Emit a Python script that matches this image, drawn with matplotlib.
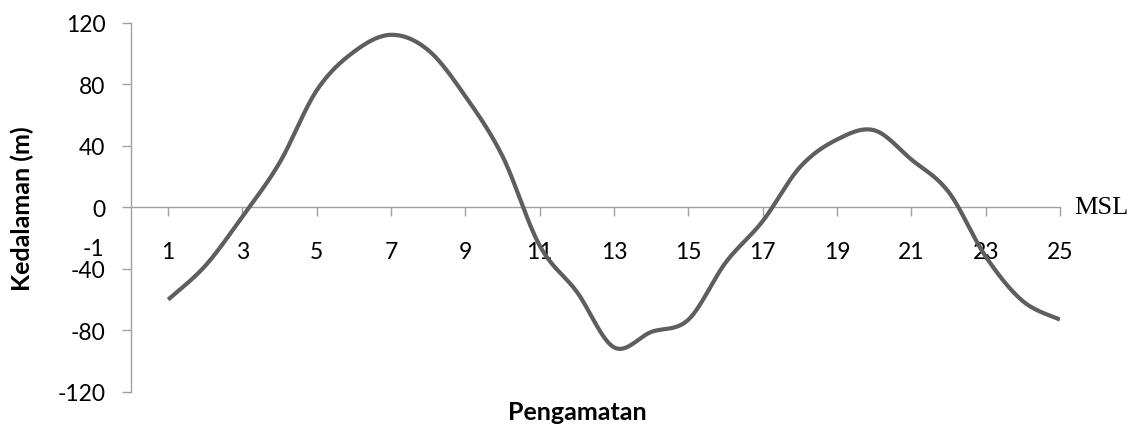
import numpy as np
import matplotlib
matplotlib.use("Agg")
import matplotlib.pyplot as plt

# Data
observations = list(range(1, 26))
depth = [-60, -38, -6, 29, 76, 101, 112, 102, 72, 33, -25, -55, -91,
         -81, -73, -36, -9, 26, 44, 50, 31, 10, -32, -61, -73]
xtick_positions = list(range(1, 26, 2))
ytick_values = [-120, -80, -40, 0, 40, 80, 120]

def smooth(xs, ys, n=30):
    # Excel-like smoothed line (Catmull-Rom Bezier)
    xs = np.asarray(xs, float); ys = np.asarray(ys, float)
    P = np.column_stack([xs, ys])
    out = []
    for i in range(len(P) - 1):
        p0 = P[i - 1] if i > 0 else P[i]
        p1 = P[i]; p2 = P[i + 1]
        p3 = P[i + 2] if i + 2 < len(P) else P[i + 1]
        c1 = p1 + (p2 - p0) / 6.0
        c2 = p2 - (p3 - p1) / 6.0
        t = np.linspace(0, 1, n, endpoint=(i == len(P) - 2))[:, None]
        b = ((1 - t) ** 3) * p1 + 3 * ((1 - t) ** 2) * t * c1 + 3 * (1 - t) * t ** 2 * c2 + t ** 3 * p2
        out.append(b)
    B = np.vstack(out)
    return B[:, 0], B[:, 1]

W, H = 1134, 427
fig = plt.figure(figsize=(W / 100, H / 100), dpi=100)
ax = fig.add_axes([131 / W, (H - 393) / H, (1060 - 131) / W, (393 - 23.5) / H])

sx, sy = smooth(observations, depth)
ax.plot(sx, sy, color="#5e5e5e", lw=3.0, solid_capstyle="butt", zorder=3)

ax.set_xlim(0, 25)
ax.set_ylim(-120, 120)

axis_col = "#a0a0a0"
for s in ["top", "right"]:
    ax.spines[s].set_visible(False)
ax.spines["left"].set_color(axis_col)
ax.spines["left"].set_linewidth(1.0)
ax.spines["bottom"].set_position(("data", 0))
ax.spines["bottom"].set_color(axis_col)
ax.spines["bottom"].set_linewidth(1.0)

font = "Lato"
ax.set_yticks(ytick_values)
ax.set_yticklabels([str(v) for v in ytick_values], fontsize=16.5, fontfamily=font)
ax.set_xticks(xtick_positions)
ax.set_xticklabels([str(v) for v in xtick_positions], fontsize=16.5, fontfamily=font)
ax.tick_params(axis="y", direction="out", length=6.5, width=1.0, color=axis_col, pad=12)
ax.tick_params(axis="x", direction="out", length=6.5, width=1.0, color=axis_col, pad=18)

fig.text(22 / W, 1 - 209 / H, "Kedalaman (m)", rotation=90, ha="center", va="center",
         fontsize=18, fontweight="bold", fontfamily=font)
fig.text(577 / W, 1 - 413 / H, "Pengamatan", ha="center", va="center",
         fontsize=18, fontweight="bold", fontfamily=font)
fig.text(1074 / W, 1 - 208 / H, "MSL", ha="left", va="center",
         fontsize=19, fontfamily="Liberation Serif")
fig.text(104 / W, 1 - 250 / H, "-1", ha="right", va="center",
         fontsize=16.5, fontfamily=font)

fig.savefig("out.png", dpi=100)
